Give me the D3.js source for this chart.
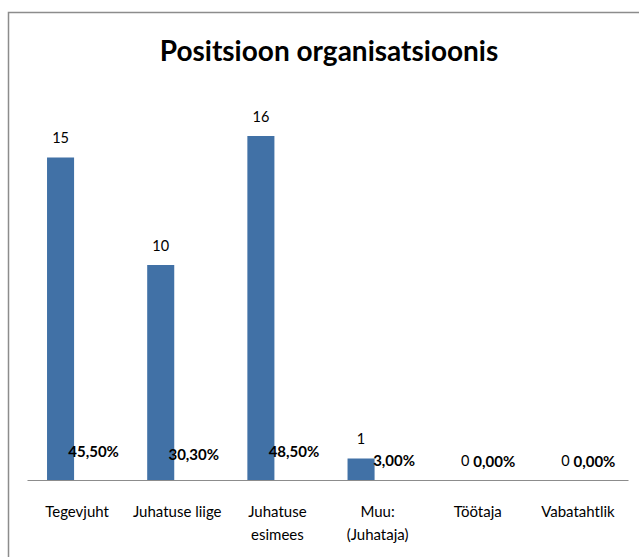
<!DOCTYPE html>
<html>
<head>
<meta charset="utf-8">
<script src="https://cdn.jsdelivr.net/npm/d3@7"></script>
<style>
  body { margin: 0; background: #fff; }
  svg { display: block; font-family: Lato, "Open Sans", sans-serif; }
</style>
</head>
<body>
<svg id="chart" width="639" height="557"></svg>
<script>
// data
var categories = ['Tegevjuht', 'Juhatuse liige', 'Juhatuse esimees', 'Muu: (Juhataja)', 'Töötaja', 'Vabatahtlik'];
var categoryLines = [['Tegevjuht'], ['Juhatuse liige'], ['Juhatuse', 'esimees'], ['Muu:', '(Juhataja)'], ['Töötaja'], ['Vabatahtlik']];
var counts = [15, 10, 16, 1, 0, 0];
var shares = [0.455, 0.303, 0.485, 0.03, 0, 0];
var shareLabels = ['45,50%', '30,30%', '48,50%', '3,00%', '0,00%', '0,00%'];
var title = 'Positsioon organisatsioonis';

var svg = d3.select('#chart');

// outer chart frame (runs off the right and bottom edge)
svg.append('rect')
  .attr('x', 8.5)
  .attr('y', 12.5)
  .attr('width', 700)
  .attr('height', 700)
  .attr('fill', 'none')
  .attr('stroke', '#8c8c8c')
  .attr('stroke-width', 1.5);

svg.append('text')
  .attr('x', 329)
  .attr('y', 61)
  .attr('text-anchor', 'middle')
  .attr('font-weight', 'bold')
  .attr('font-size', 28)
  .attr('fill', '#000')
  .text(title);

var x = d3.scaleBand()
  .domain(categories)
  .range([27, 628]);

var series = ['count', 'share'];
var xs = d3.scaleBand()
  .domain(series)
  .range([x.bandwidth() * 0.2, x.bandwidth() * 0.74]);

var y = d3.scaleLinear()
  .domain([0, 16])
  .range([480, 136]);

var rows = categories.map(function(c, i) {
  return { cat: c, lines: categoryLines[i], n: counts[i], p: shares[i], pl: shareLabels[i] };
});

// count bars
svg.append('g')
  .selectAll('rect')
  .data(rows)
  .enter()
  .append('rect')
  .attr('x', function(d) { return x(d.cat) + xs('count'); })
  .attr('y', function(d) { return y(d.n); })
  .attr('width', xs.bandwidth())
  .attr('height', function(d) { return y(0) - y(d.n); })
  .attr('fill', '#4171a6');

// count labels
svg.append('g')
  .selectAll('text')
  .data(rows)
  .enter()
  .append('text')
  .attr('x', function(d) { return x(d.cat) + xs('count') + xs.bandwidth() / 2 + (d.n === 0 ? 4 : 0); })
  .attr('y', function(d) { return y(d.n) - 14.5; })
  .attr('text-anchor', 'middle')
  .attr('font-size', 14.5)
  .attr('fill', '#000')
  .text(function(d) { return d.n; });

// share series has no fill, only its labels show
svg.append('g')
  .selectAll('text')
  .data(rows)
  .enter()
  .append('text')
  .attr('x', function(d) { return x(d.cat) + xs('share') + xs.bandwidth() / 2 + 6; })
  .attr('y', function(d) { return y(d.p) - 13; })
  .attr('text-anchor', 'middle')
  .attr('font-size', 15)
  .attr('font-weight', 'bold')
  .attr('fill', '#000')
  .text(function(d) { return d.pl; });

// category axis
var axis = svg.append('g')
  .attr('transform', 'translate(0,' + y(0) + ')')
  .call(d3.axisBottom(x).tickSize(0).tickFormat(''));
axis.select('.domain').attr('stroke', '#8c8c8c').attr('stroke-width', 1.2);

var labels = svg.append('g')
  .selectAll('text')
  .data(rows)
  .enter()
  .append('text')
  .attr('text-anchor', 'middle')
  .attr('font-size', 15)
  .attr('fill', '#000')
  .attr('x', function(d) { return x(d.cat) + x.bandwidth() / 2; })
  .attr('y', 517);

labels.selectAll('tspan')
  .data(function(d) { return d.lines; })
  .enter()
  .append('tspan')
  .attr('x', function() { var p = d3.select(this.parentNode).datum(); return x(p.cat) + x.bandwidth() / 2; })
  .attr('dy', function(d, i) { return i === 0 ? 0 : 23; })
  .text(function(d) { return d; });
</script>
</body>
</html>
